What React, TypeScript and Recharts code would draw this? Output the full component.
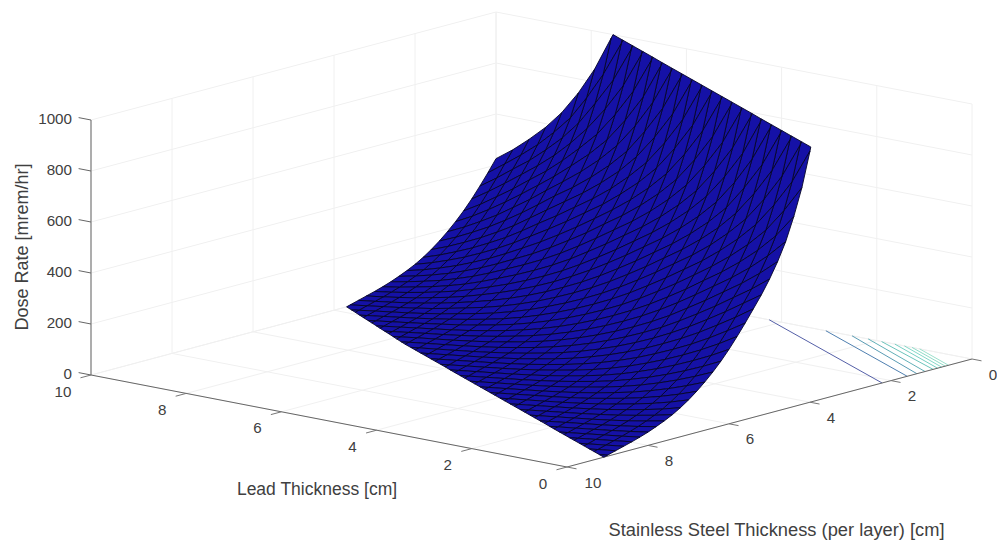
import { Scatter, ScatterChart, XAxis, YAxis } from "recharts";

// axis ticks
const leadTicks = [0, 2, 4, 6, 8, 10];
const steelTicks = [0, 2, 4, 6, 8, 10];
const doseTicks = [0, 200, 400, 600, 800, 1000];

// mesh vertices of the surface
const leadGrid = [
  0, 0.38, 0.76, 1.14, 1.52, 1.9, 2.27, 2.65, 3.03, 3.41, 3.79, 4.17, 4.55, 4.93, 5.31, 5.69, 6.06, 6.44, 6.82, 7.2,
  7.58, 7.93, 8.27, 8.62, 8.96, 9.31, 9.65, 10,
];
const steelGrid = [
  0, 0.2, 0.4, 0.6, 0.8, 1, 1.2, 1.4, 1.6, 1.8, 2, 2.2, 2.4, 2.6, 2.8, 3, 3.2, 3.4, 3.6, 3.8, 4, 4.2, 4.4, 4.6, 4.8,
  5, 5.2, 5.4, 5.6, 5.8, 6, 6.2, 6.4, 6.6, 6.8, 7, 7.2, 7.4, 7.6, 7.8, 8, 8.2, 8.4, 8.6, 8.8, 9, 9.2, 9.4, 9.6, 9.8,
  10,
];

// dose read along the surface, one entry per step of combined shielding
const doseByDepth = [
  12000, 10600, 9400, 8300, 7300, 6500, 5750, 5100, 4500, 4000, 3550, 3150, 2800, 2480, 2200, 1950, 1700, 1490, 1300,
  1135, 985, 850, 745, 655, 585, 525, 472, 425, 378, 334, 292, 254, 220, 189, 161, 136, 114, 95, 79, 65, 52, 41, 31,
  22, 13, 4, -5, -14, -23,
];

// contour lines on the floor: steel thickness where they meet lead = 0, lead thickness where they meet steel = 0
const contourSteel = [2.22, 1.6, 1.36, 1.16, 0.96, 0.85, 0.75, 0.66, 0.58];
const contourLead = [4.26, 3.07, 2.52, 2.18, 1.9, 1.62, 1.42, 1.26, 1.1];
const contourColors = [
  "#5560a8",
  "#4f7fb0",
  "#5a9cb4",
  "#62b0b8",
  "#6cc4bc",
  "#78d0c4",
  "#84d8c8",
  "#90dcc8",
  "#9ce0cc",
];

const WIDTH = 997;
const HEIGHT = 541;

const DOSE_MAX = 1000;
const GRID_COLOR = "#f0f0f0";
const TEXT_COLOR = "#404040";
const FONT = "'Liberation Sans', Arial, sans-serif";

interface Vertex {
  lead: number;
  steel: number;
  dose: number;
}

// view of the 3D box, in chart units per data unit
function project(lead: number, steel: number, dose: number) {
  return {
    x: 972 - 47.6 * lead - 40.5 * steel,
    y: 359 - 9.2 * lead + 10.8 * steel - 0.255 * dose,
  };
}

function clipDose(poly: Vertex[], keep: (dose: number) => boolean, limit: number) {
  const out: Vertex[] = [];
  poly.forEach((a, k) => {
    const b = poly[(k + 1) % poly.length];
    if (keep(a.dose)) out.push(a);
    if (keep(a.dose) !== keep(b.dose)) {
      const t = (limit - a.dose) / (b.dose - a.dose);
      out.push({
        lead: a.lead + t * (b.lead - a.lead),
        steel: a.steel + t * (b.steel - a.steel),
        dose: limit,
      });
    }
  });
  return out;
}

function buildFaces() {
  const faces: { x: number; y: number; corners: { x: number; y: number }[] }[] = [];
  const vertex = (i: number, j: number): Vertex | null => {
    const dose = doseByDepth[i + j];
    return dose === undefined ? null : { lead: leadGrid[i], steel: steelGrid[j], dose };
  };
  for (let i = 0; i < leadGrid.length - 1; i++) {
    for (let j = 0; j < steelGrid.length - 1; j++) {
      const a = vertex(i, j);
      const b = vertex(i + 1, j);
      const c = vertex(i + 1, j + 1);
      const d = vertex(i, j + 1);
      if (!a || !b || !c || !d) continue;
      let poly = clipDose([a, b, c, d], (z) => z <= DOSE_MAX, DOSE_MAX);
      if (poly.length) poly = clipDose(poly, (z) => z >= 0, 0);
      if (poly.length < 3) continue;
      const corners = poly.map((v) => project(v.lead, v.steel, v.dose));
      faces.push({ ...corners[0], corners });
    }
  }
  return faces;
}

const faces = buildFaces();

function FaceShape(props: any) {
  const { cx, cy, payload } = props;
  const pts = payload.corners
    .map((p: { x: number; y: number }) => `${cx + p.x - payload.x},${cy + p.y - payload.y}`)
    .join(" ");
  return <polygon points={pts} fill="#1511a6" stroke="#060628" strokeWidth={0.9} strokeLinejoin="round" />;
}

const noDot = () => <g />;

function segment(
  key: string,
  a: { x: number; y: number },
  b: { x: number; y: number },
  stroke: string,
  strokeWidth = 1,
) {
  return (
    <Scatter
      key={key}
      data={[a, b]}
      line={{ stroke, strokeWidth }}
      shape={noDot}
      isAnimationActive={false}
    />
  );
}

function LabelShape(props: any) {
  const { cx, cy, payload } = props;
  const { text, anchor = "middle", size = 15.2, angle = 0 } = payload;
  return (
    <text
      x={cx}
      y={cy}
      textAnchor={anchor}
      dominantBaseline="central"
      fill={TEXT_COLOR}
      fontSize={size}
      fontFamily={FONT}
      transform={angle ? `rotate(${angle} ${cx} ${cy})` : undefined}
    >
      {text}
    </text>
  );
}

function textAt(key: string, p: { x: number; y: number }, text: string, extra = {}) {
  return <Scatter key={key} data={[{ ...p, text, ...extra }]} shape={LabelShape} isAnimationActive={false} />;
}

export default function App() {
  const grid = [
    ...doseTicks.flatMap((z) => [
      segment(`wl${z}`, project(10, 10, z), project(10, 0, z), GRID_COLOR),
      segment(`wr${z}`, project(10, 0, z), project(0, 0, z), GRID_COLOR),
    ]),
    ...steelTicks.flatMap((s) => [
      segment(`fs${s}`, project(0, s, 0), project(10, s, 0), GRID_COLOR),
      segment(`vs${s}`, project(10, s, 0), project(10, s, DOSE_MAX), GRID_COLOR),
    ]),
    ...leadTicks.flatMap((l) => [
      segment(`fl${l}`, project(l, 0, 0), project(l, 10, 0), GRID_COLOR),
      segment(`vl${l}`, project(l, 0, 0), project(l, 0, DOSE_MAX), GRID_COLOR),
    ]),
  ];

  const contours = contourSteel.map((s, k) =>
    segment(`c${k}`, project(0, s, 0), project(contourLead[k], 0, 0), contourColors[k]),
  );

  const axes = [
    segment("zAxis", project(10, 10, 0), project(10, 10, DOSE_MAX), "#9a9a9a", 1.6),
    segment("leadAxis", project(10, 10, 0), project(0, 10, 0), "#666666"),
    segment("steelAxis", project(0, 10, 0), project(0, 0, 0), "#666666"),
    ...doseTicks.map((z) => segment(`zt${z}`, project(10, 10, z), project(10.26, 10, z), "#666666")),
    ...leadTicks.map((l) => segment(`lt${l}`, project(l, 10, 0), project(l, 10.26, 0), "#777777")),
    ...steelTicks.map((s) => segment(`st${s}`, project(0, s, 0), project(-0.2, s, 0), "#777777")),
  ];

  const labels = [
    ...doseTicks.map((z) => {
      const p = project(10, 10, z);
      return textAt(`zl${z}`, { x: p.x - 19, y: p.y - 1.5 }, String(z), { anchor: "end" });
    }),
    ...leadTicks.map((l) => {
      const p = project(l, 10, 0);
      return textAt(`ll${l}`, { x: p.x - (l === 10 ? 28 : 24), y: p.y + 16 }, String(l));
    }),
    ...steelTicks.map((s) => {
      const p = project(0, s, 0);
      return textAt(`sl${s}`, { x: p.x + (s === 10 ? 26 : 21), y: p.y + 15 }, String(s));
    }),
    textAt("zTitle", { x: 22, y: 247 }, "Dose Rate [mrem/hr]", { angle: -90, size: 18 }),
    textAt("leadTitle", { x: 317, y: 489 }, "Lead Thickness [cm]", { size: 17.5 }),
    textAt("steelTitle", { x: 776.5, y: 529 }, "Stainless Steel Thickness (per layer) [cm]", { size: 18.3 }),
  ];

  return (
    <div style={{ position: "absolute", left: 0, top: 0 }}>
      <ScatterChart width={WIDTH} height={HEIGHT} margin={{ top: 0, right: 0, bottom: 0, left: 0 }}>
        <XAxis type="number" dataKey="x" domain={[0, WIDTH]} hide />
        <YAxis type="number" dataKey="y" domain={[0, HEIGHT]} reversed hide />
        {grid}
        {contours}
        {axes}
        <Scatter data={faces} shape={FaceShape} isAnimationActive={false} />
        {labels}
      </ScatterChart>
    </div>
  );
}
